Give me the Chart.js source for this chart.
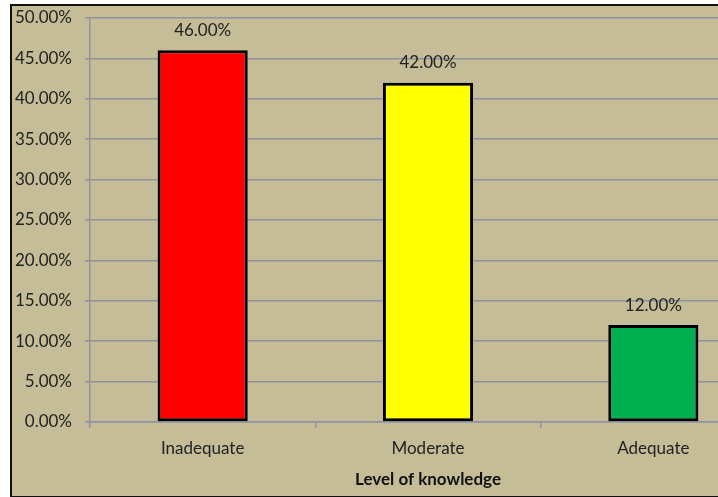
<!DOCTYPE html>
<html>
<head>
<meta charset="utf-8">
<script src="https://cdn.jsdelivr.net/npm/chart.js@4/dist/chart.umd.min.js"></script>
<style>
  html, body { margin: 0; padding: 0; background: #fff; overflow: hidden; }
  body { width: 718px; height: 497px; position: relative; }
  /* khaki panel with the dark frame, runs past the right edge */
  #panel {
    position: absolute; left: 10px; top: 4px; width: 820px; height: 490px;
    background: #C4BD97; border: 2px solid #111;
  }
  #chart { position: absolute; left: 0; top: 0; }
</style>
</head>
<body>
<div id="panel"></div>
<canvas id="chart" width="790" height="497"></canvas>
<script>
// Kiến thức - tỉ lệ phần trăm
const categories = ['Inadequate', 'Moderate', 'Adequate'];
const percentValues = [46, 42, 12];
const barColors = ['#FF0000', '#FFFF00', '#00B050'];
const yTicks = [0, 5, 10, 15, 20, 25, 30, 35, 40, 45, 50];
const axisTitle = 'Level of knowledge';

const gridColor = '#8f91a2';
const textColor = '#222';
const fontFamily = 'Lato, "Open Sans", sans-serif';

// In nhãn giá trị phía trên mỗi cột
const valueLabels = {
    id: 'valueLabels',
    afterDatasetsDraw(chart) {
        const ctx = chart.ctx;
        const meta = chart.getDatasetMeta(0);
        ctx.save();
        ctx.font = '17px ' + fontFamily;
        ctx.fillStyle = textColor;
        ctx.textAlign = 'center';
        ctx.textBaseline = 'middle';
        meta.data.forEach((bar, i) => {
            ctx.fillText(percentValues[i].toFixed(2) + '%', bar.x, bar.y - 20);
        });
        ctx.restore();
    }
};

const ctx = document.getElementById('chart').getContext('2d');
new Chart(ctx, {
    type: 'bar',
    data: {
        labels: categories,
        datasets: [{
            data: percentValues,
            backgroundColor: barColors,
            borderColor: '#000',
            borderWidth: 3,
            borderSkipped: false,
            categoryPercentage: 1,
            barPercentage: 0.4
        }]
    },
    options: {
        responsive: false,
        devicePixelRatio: 1,
        animation: false,
        layout: { padding: { top: 18, right: 24, bottom: 0, left: 0 } },
        plugins: {
            legend: { display: false },
            tooltip: { enabled: false }
        },
        scales: {
            y: {
                min: 0,
                max: 50,
                afterFit(scale) {
                    scale.width = 90;
                    scale.paddingTop = 0;
                    scale.paddingBottom = 0;
                },
                afterBuildTicks(scale) { scale.ticks = yTicks.map(v => ({ value: v })); },
                ticks: {
                    padding: 13,
                    color: textColor,
                    font: { family: fontFamily, size: 17 },
                    callback: v => v.toFixed(2) + '%'
                },
                grid: { color: gridColor, lineWidth: 1.5, tickLength: 5 },
                border: { color: gridColor, width: 1.5 }
            },
            x: {
                afterFit(scale) {
                    scale.height = 75;
                    scale.paddingLeft = 0;
                    scale.paddingRight = 0;
                },
                ticks: {
                    padding: 10,
                    color: textColor,
                    font: { family: fontFamily, size: 17 }
                },
                grid: { drawOnChartArea: false, color: gridColor, lineWidth: 1.5, tickLength: 6 },
                border: { color: gridColor, width: 1.5 },
                title: {
                    display: true,
                    text: axisTitle,
                    color: '#111',
                    font: { family: fontFamily, size: 17, weight: 'bold' },
                    padding: { top: 0, bottom: 7 }
                }
            }
        }
    },
    plugins: [valueLabels]
});
</script>
</body>
</html>
